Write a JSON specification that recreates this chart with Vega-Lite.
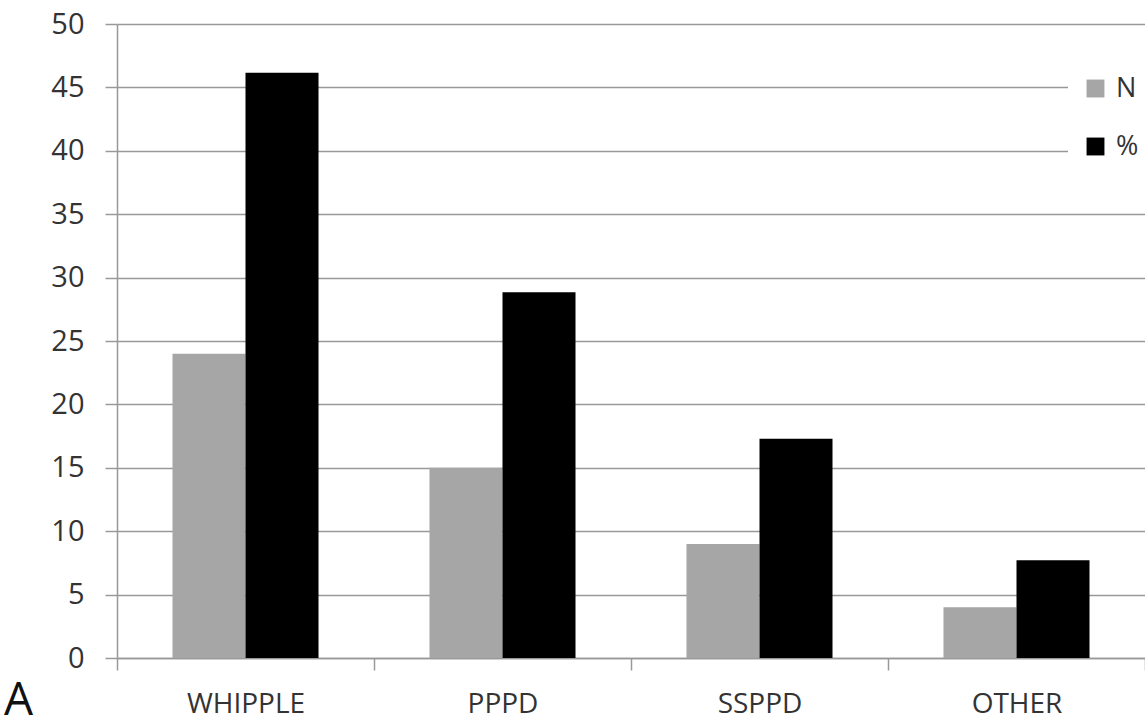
{
  "$schema": "https://vega.github.io/schema/vega-lite/v6.json",
  "width": 1028,
  "height": 634,
  "autosize": {"type": "none"},
  "padding": {"left": 117, "top": 24, "right": 0, "bottom": 70},
  "background": "white",
  "config": {
    "view": {"stroke": null},
    "font": "Open Sans"
  },
  "title": {
    "text": "A",
    "orient": "bottom",
    "anchor": "start",
    "frame": "group",
    "fontSize": 46,
    "fontWeight": "normal",
    "color": "#111",
    "dx": -113,
    "offset": -39
  },
  "data": {
    "values": [
      {"category": "WHIPPLE", "series": "N", "value": 24},
      {"category": "WHIPPLE", "series": "%", "value": 46.15},
      {"category": "PPPD", "series": "N", "value": 15},
      {"category": "PPPD", "series": "%", "value": 28.85},
      {"category": "SSPPD", "series": "N", "value": 9},
      {"category": "SSPPD", "series": "%", "value": 17.3},
      {"category": "OTHER", "series": "N", "value": 4},
      {"category": "OTHER", "series": "%", "value": 7.7}
    ]
  },
  "mark": {"type": "bar"},
  "encoding": {
    "x": {
      "field": "category",
      "type": "nominal",
      "sort": ["WHIPPLE", "PPPD", "SSPPD", "OTHER"],
      "scale": {"paddingInner": 0, "paddingOuter": 0},
      "axis": {
        "title": null,
        "labelAngle": 0,
        "labelFontSize": 28,
        "labelColor": "#333",
        "labelPadding": 20,
        "tickBand": "extent",
        "tickSize": 12,
        "tickColor": "#999",
        "domainColor": "#999",
        "domainWidth": 1.5,
        "tickWidth": 1.5
      }
    },
    "xOffset": {
      "field": "series",
      "type": "nominal",
      "sort": ["N", "%"],
      "scale": {"paddingInner": 0, "paddingOuter": 0.76}
    },
    "y": {
      "field": "value",
      "type": "quantitative",
      "scale": {"domain": [0, 50], "nice": false},
      "axis": {
        "title": null,
        "values": [0, 5, 10, 15, 20, 25, 30, 35, 40, 45, 50],
        "labelFontSize": 29,
        "labelColor": "#333",
        "labelPadding": 21,
        "tickSize": 12,
        "tickColor": "#999",
        "tickWidth": 1.5,
        "domainColor": "#999",
        "domainWidth": 1.5,
        "gridColor": "#999",
        "gridWidth": 1.5,
        "gridOpacity": 1
      }
    },
    "color": {
      "field": "series",
      "type": "nominal",
      "scale": {"domain": ["N", "%"], "range": ["#a6a6a6", "#000000"]},
      "legend": {
        "title": null,
        "orient": "none",
        "legendX": 951,
        "legendY": 37,
        "fillColor": "white",
        "padding": 14,
        "symbolType": "square",
        "symbolSize": 320,
        "symbolStrokeWidth": 0,
        "labelFontSize": 27,
        "labelColor": "#333",
        "labelOffset": 7,
        "rowPadding": 30
      }
    }
  }
}
